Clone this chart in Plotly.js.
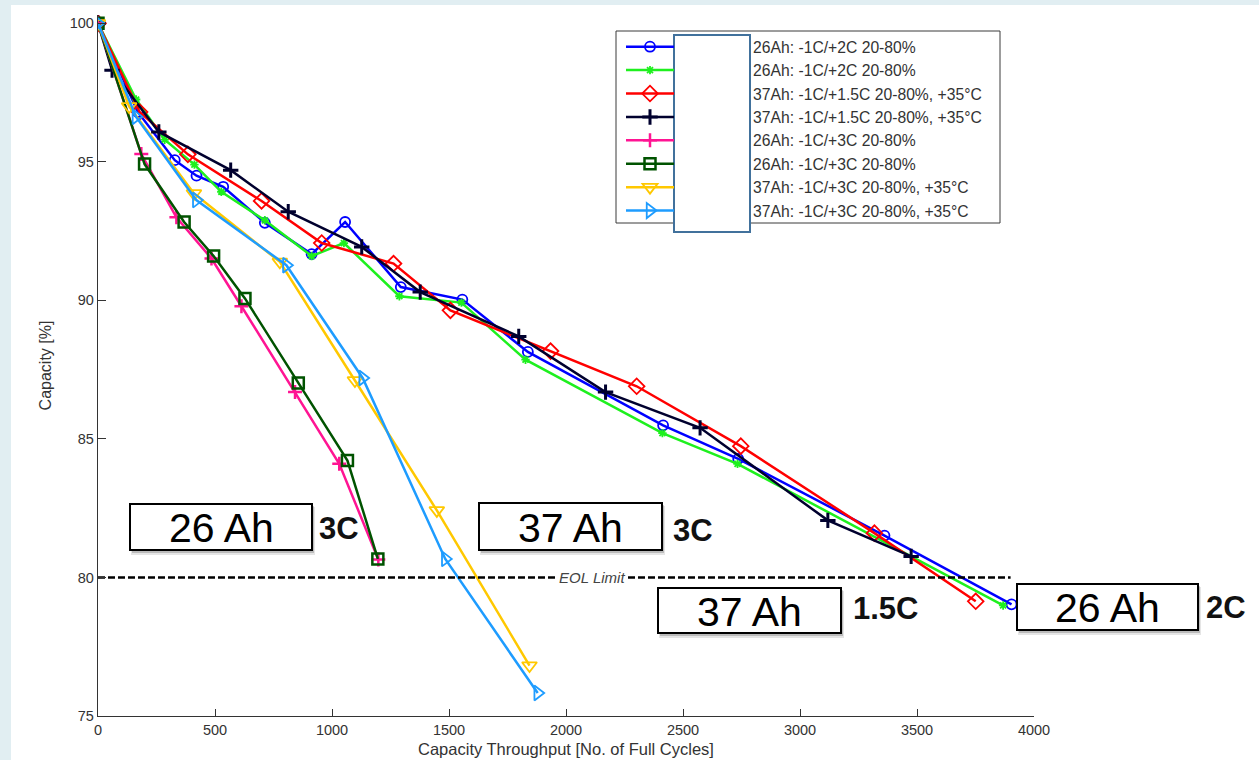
<!DOCTYPE html>
<html>
<head>
<meta charset="utf-8">
<script src="https://cdn.plot.ly/plotly-3.0.1.min.js"></script>
<style>html,body{margin:0;padding:0;background:#fff;}#chart{width:1259px;height:760px;}</style>
</head>
<body>
<div id="chart"></div>
<script>
// ---- data ----
const seriesNames = [
  "26Ah: -1C/+2C 20-80%",
  "26Ah: -1C/+2C 20-80%",
  "37Ah: -1C/+1.5C 20-80%, +35°C",
  "37Ah: -1C/+1.5C 20-80%, +35°C",
  "26Ah: -1C/+3C 20-80%",
  "26Ah: -1C/+3C 20-80%",
  "37Ah: -1C/+3C 20-80%, +35°C",
  "37Ah: -1C/+3C 20-80%, +35°C"
];
const blueX  = [0, 170, 328, 421, 535, 713, 913, 1056, 1294, 1557, 1837, 2415, 2736, 3361, 3904];
const blueY  = [100, 96.8, 95.06, 94.5, 94.1, 92.8, 91.67, 92.83, 90.48, 90.03, 88.14, 85.49, 84.28, 81.51, 79.03];
const greenX = [0, 163, 285, 412, 527, 713, 913, 1051, 1288, 1553, 1827, 2412, 2733, 3868];
const greenY = [100, 97.25, 95.8, 94.9, 93.92, 92.89, 91.6, 92.07, 90.15, 89.92, 87.86, 85.21, 84.1, 78.99];
const redX   = [0, 178, 384, 699, 956, 1263, 1506, 1934, 2302, 2747, 3318, 3751];
const redY   = [100, 96.8, 95.27, 93.59, 92.07, 91.33, 89.64, 88.17, 86.9, 84.74, 81.6, 79.14];
const navyX  = [0, 60, 260, 567, 813, 1127, 1377, 1798, 2169, 2573, 3119, 3475];
const navyY  = [100, 98.31, 96.08, 94.7, 93.2, 91.93, 90.3, 88.7, 86.69, 85.4, 82.06, 80.76];
const pinkX  = [0, 185, 335, 485, 613, 842, 1031, 1198];
const pinkY  = [100, 95.28, 93.0, 91.51, 89.79, 86.69, 84.1, 80.65];
const dkgrX  = [0, 199, 368, 494, 628, 856, 1066, 1196];
const dkgrY  = [100, 94.92, 92.83, 91.6, 90.07, 87.02, 84.22, 80.67];
const yellX  = [0, 133, 410, 777, 1098, 1448, 1844];
const yellY  = [100, 97.0, 93.86, 91.39, 87.11, 82.42, 76.82];
const cyanX  = [0, 162, 420, 805, 1131, 1484, 1879];
const cyanY  = [100, 96.63, 93.62, 91.27, 87.2, 80.67, 75.83];
const eolX   = [0, 3900];
const eolY   = [80, 80];
const xTicks = [0, 500, 1000, 1500, 2000, 2500, 3000, 3500, 4000];
const yTicks = [75, 80, 85, 90, 95, 100];
const boxLabels = ["26 Ah", "37 Ah", "37 Ah", "26 Ah"];
const rateLabels = ["3C", "3C", "1.5C", "2C"];

// ---- layout geometry (pixels) ----
const W = 1259, H = 760, L = 98, R = 225, T = 15, B = 44;
const PW = W - L - R, PH = H - T - B;
const fx = px => (px - L) / PW;
const fy = py => 1 - (py - T) / PH;
const FONT = "Liberation Sans, Arial, sans-serif";
const pad = "\u00a0".repeat(17);

function tr(x, y, name, color, symbol, size, mlw) {
  return {
    x: x, y: y, name: pad + name, type: "scatter", mode: "lines+markers",
    line: {color: color, width: 2.5},
    marker: {symbol: symbol, size: size, color: color, line: {color: color, width: mlw}}
  };
}
const traces = [
  tr(blueX, blueY, seriesNames[0], "#0000ff", "circle-open", 10, 1.8),
  tr(greenX, greenY, seriesNames[1], "#1ef01e", "asterisk-open", 7, 1.8),
  tr(redX, redY, seriesNames[2], "#ff0000", "diamond-open", 12, 1.8),
  tr(navyX, navyY, seriesNames[3], "#00002e", "cross-thin-open", 11, 3),
  tr(pinkX, pinkY, seriesNames[4], "#ff1493", "cross-thin-open", 10, 2.5),
  tr(dkgrX, dkgrY, seriesNames[5], "#005300", "square-open", 11, 2.5),
  tr(yellX, yellY, seriesNames[6], "#ffc800", "triangle-down-open", 13, 1.8),
  tr(cyanX, cyanY, seriesNames[7], "#1e9cff", "triangle-right-open", 13, 1.8),
  {x: eolX, y: eolY, type: "scatter", mode: "lines", showlegend: false, hoverinfo: "skip",
   line: {color: "#000", width: 2.5, dash: "7px,3px"}}
];

// boxes: [x0,y0,x1,y1] in px, rate label left px
const boxes = [
  {b: [130, 504, 312, 550], r: 317, ry: 528},
  {b: [479, 503, 662, 550], r: 671, ry: 530},
  {b: [658, 588, 841, 633], r: 851, ry: 608},
  {b: [1017, 584, 1198, 630], r: 1204, ry: 607}
];
const shapes = [
  {type: "rect", xref: "paper", yref: "paper", layer: "below",
   x0: fx(11), x1: fx(W + 5), y0: fy(5), y1: fy(H + 5), fillcolor: "#ffffff", line: {width: 0}},
  {type: "rect", xref: "paper", yref: "paper", layer: "above",
   x0: fx(616), x1: fx(1000), y0: fy(31), y1: fy(223), fillcolor: "#ffffff", line: {color: "#3a3a3a", width: 1}},
  {type: "rect", xref: "paper", yref: "paper", layer: "above",
   x0: fx(674), x1: fx(750), y0: fy(35), y1: fy(232), fillcolor: "#ffffff", line: {color: "#41719c", width: 2}}
];
const annotations = [
  {xref: "x", yref: "y", x: 2109, y: 80, text: "<i>EOL Limit</i>", showarrow: false,
   bgcolor: "#ffffff", borderpad: 1, font: {family: FONT, size: 15, color: "#444"}}
];
boxes.forEach((bx, i) => {
  const [x0, y0, x1, y1] = bx.b;
  shapes.push({type: "rect", xref: "paper", yref: "paper", layer: "above",
    x0: fx(x0 + 1), x1: fx(x1 + 3), y0: fy(y0 + 3), y1: fy(y1 + 5), fillcolor: "rgba(0,0,0,0.10)", line: {width: 0}});
  shapes.push({type: "rect", xref: "paper", yref: "paper", layer: "above",
    x0: fx(x0 + 2), x1: fx(x1 + 2), y0: fy(y0 + 2), y1: fy(y1 + 3), fillcolor: "rgba(0,0,0,0.18)", line: {width: 0}});
  shapes.push({type: "rect", xref: "paper", yref: "paper", layer: "above",
    x0: fx(x0), x1: fx(x1), y0: fy(y0), y1: fy(y1), fillcolor: "#ffffff", line: {color: "#000", width: 2}});
  annotations.push({xref: "paper", yref: "paper", x: fx((x0 + x1) / 2), y: fy((y0 + y1) / 2 + 1),
    xanchor: "center", yanchor: "middle", showarrow: false, text: boxLabels[i],
    font: {family: FONT, size: 41, color: "#000"}});
  annotations.push({xref: "paper", yref: "paper", x: fx(bx.r), y: fy(bx.ry),
    xanchor: "left", yanchor: "middle", showarrow: false, text: "<b>" + rateLabels[i] + "</b>",
    font: {family: FONT, size: 31, color: "#111"}});
});

const layout = {
  width: W, height: H,
  margin: {l: L, r: R, t: T, b: B, pad: 0},
  paper_bgcolor: "#e1eef2", plot_bgcolor: "rgba(0,0,0,0)",
  font: {family: FONT, color: "#333"},
  showlegend: true,
  legend: {x: fx(621), y: fy(30), xanchor: "left", yanchor: "top", bgcolor: "rgba(0,0,0,0)",
           borderwidth: 0, itemwidth: 48, font: {family: FONT, size: 15.7, color: "#333"},
           tracegroupgap: 0},
  xaxis: {range: [0, 4000], tickvals: xTicks, ticks: "inside", ticklen: 7, tickcolor: "#333",
          showline: true, linecolor: "#333", linewidth: 1.2, showgrid: false, zeroline: false,
          tickfont: {family: FONT, size: 14.5, color: "#333"},
          title: {text: "Capacity Throughput [No. of Full Cycles]", standoff: 6,
                  font: {family: FONT, size: 16.5, color: "#333"}}},
  yaxis: {range: [75, 100.3], tickvals: yTicks, ticks: "inside", ticklen: 8, tickcolor: "#333",
          showline: true, linecolor: "#333", linewidth: 1.2, showgrid: false, zeroline: false,
          tickfont: {family: FONT, size: 14.5, color: "#333"},
          title: {text: "Capacity [%]", standoff: 14, font: {family: FONT, size: 16, color: "#333"}}},
  shapes: shapes,
  annotations: annotations
};
Plotly.newPlot("chart", traces, layout, {displayModeBar: false, staticPlot: true});
</script>
</body>
</html>
